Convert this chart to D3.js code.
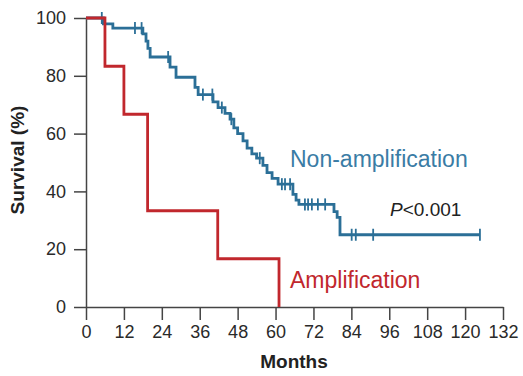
<!DOCTYPE html>
<html>
<head>
<meta charset="utf-8">
<script src="https://cdn.jsdelivr.net/npm/d3@7"></script>
<style>
  body { margin: 0; background: #fff; }
  svg text { font-family: "Liberation Sans", Arial, sans-serif; }
</style>
</head>
<body>
<svg id="km" width="523" height="376"></svg>
<script>
// step points (months, survival %)
const nonAmpTimes = [0, 5.5, 8.5, 18, 19, 19.6, 20.3, 26.6, 28.5, 34.5, 35.5, 40.2, 41.8, 44, 45.6, 46.8, 48, 49.7, 51, 52.5, 54, 56, 57.3, 58.9, 60.8, 65.5, 66.5, 67.4, 78.5, 79.5, 80.4];
const nonAmpSurv  = [100, 98, 96.5, 94.5, 92, 89.5, 86.5, 83, 79.5, 76, 73.5, 71, 69, 67, 65, 62, 60, 57.5, 55, 53, 51.5, 49, 46.5, 44.5, 42.5, 39, 37, 35.5, 33, 31, 25];
const nonAmpEnd = 124.7;
const nonAmpCensor = [5, 15.5, 17.6, 26, 37, 40, 43, 46, 55, 62, 63, 64.6, 69.3, 70.3, 71.5, 73.4, 75.7, 84.1, 85.4, 90.9, 124.7];

const ampTimes = [0, 6, 12, 19.5, 41.7, 61.1];
const ampSurv  = [100, 83.3, 66.7, 33.3, 16.7, 0];

const xTicks = [0, 12, 24, 36, 48, 60, 72, 84, 96, 108, 120, 132];
const yTicks = [0, 20, 40, 60, 80, 100];

const svg = d3.select("#km");
const x = d3.scaleLinear().domain([0, 132]).range([86, 503]);
const y = d3.scaleLinear().domain([0, 100]).range([307, 18]);

// axes
const xAxis = svg.append("g")
  .attr("transform", "translate(0,307)")
  .call(d3.axisBottom(x).tickValues(xTicks).tickSize(13).tickPadding(5).tickSizeOuter(0));
const yAxis = svg.append("g")
  .attr("transform", "translate(86,0)")
  .call(d3.axisLeft(y).tickValues(yTicks).tickSize(12).tickPadding(8).tickSizeOuter(0));
[xAxis, yAxis].forEach(g => {
  g.select(".domain").attr("stroke", "#444").attr("stroke-width", 1.5);
  g.selectAll(".tick line").attr("stroke", "#444").attr("stroke-width", 1.5);
  g.selectAll(".tick text").attr("fill", "#2a2a2a").style("font-size", "18px")
    .style("font-family", "'Liberation Sans', Arial, sans-serif");
});

const stepLine = d3.line().x(d => x(d[0])).y(d => y(d[1])).curve(d3.curveStepAfter);

// non-amplification curve
const nonAmp = nonAmpTimes.map((t, i) => [t, nonAmpSurv[i]]);
nonAmp.push([nonAmpEnd, nonAmpSurv[nonAmpSurv.length - 1]]);
svg.append("path").datum(nonAmp)
  .attr("d", stepLine)
  .attr("fill", "none").attr("stroke", "#2b6f97").attr("stroke-width", 2.8);

function survAt(t) {
  let s = 100;
  nonAmpTimes.forEach((tt, i) => { if (tt <= t) s = nonAmpSurv[i]; });
  return s;
}
svg.selectAll(".censor").data(nonAmpCensor).enter().append("line")
  .attr("x1", d => x(d)).attr("x2", d => x(d))
  .attr("y1", d => y(survAt(d)) - 6).attr("y2", d => y(survAt(d)) + 6)
  .attr("stroke", "#2b6f97").attr("stroke-width", 1.8);

// amplification curve
const amp = ampTimes.map((t, i) => [t, ampSurv[i]]);
svg.append("path").datum(amp)
  .attr("d", stepLine)
  .attr("fill", "none").attr("stroke", "#c1272d").attr("stroke-width", 2.8);

// labels
svg.append("text").attr("x", 290).attr("y", 167)
  .attr("fill", "#3a7ca5").style("font-size", "23px").text("Non-amplification");
svg.append("text").attr("x", 290).attr("y", 288)
  .attr("fill", "#c1272d").style("font-size", "23px").text("Amplification");
const p = svg.append("text").attr("x", 390).attr("y", 216)
  .attr("fill", "#222").style("font-size", "19px");
p.append("tspan").style("font-style", "italic").text("P");
p.append("tspan").text("<0.001");

svg.append("text").attr("x", 294).attr("y", 368).attr("text-anchor", "middle")
  .attr("fill", "#222").style("font-size", "19px").style("font-weight", "bold").text("Months");
svg.append("text").attr("transform", "translate(24,160) rotate(-90)").attr("text-anchor", "middle")
  .attr("fill", "#222").style("font-size", "19px").style("font-weight", "bold").text("Survival (%)");
</script>
</body>
</html>
